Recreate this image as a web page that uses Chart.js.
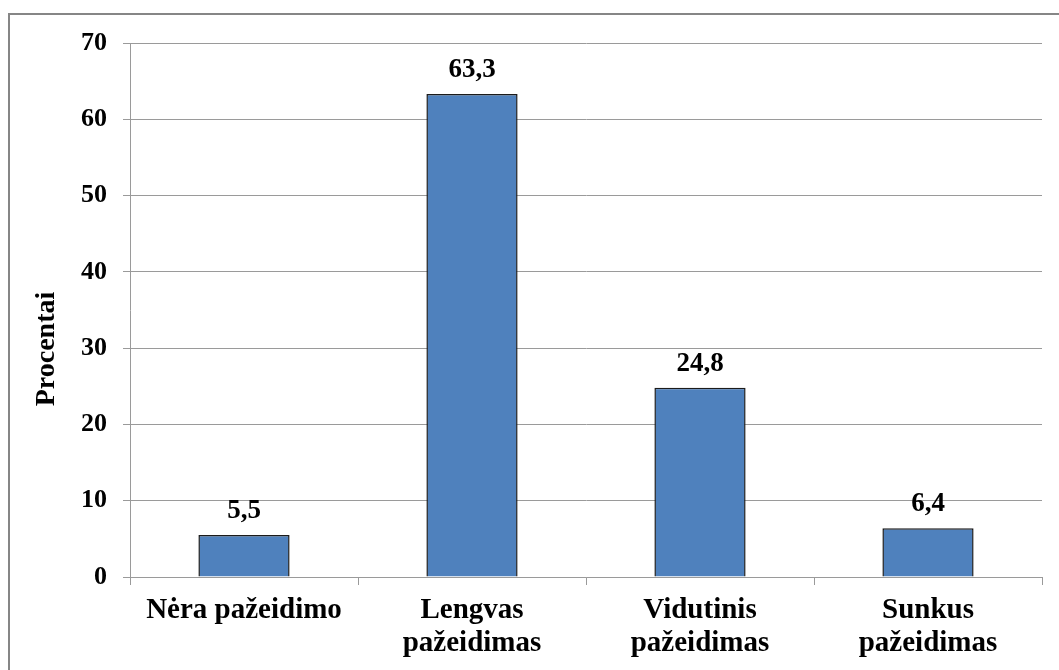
<!DOCTYPE html>
<html>
<head>
<meta charset="utf-8">
<script src="https://cdn.jsdelivr.net/npm/chart.js@4/dist/chart.umd.min.js"></script>
<style>
  html, body { margin: 0; padding: 0; background: #ffffff; overflow: hidden; }
  #wrap { position: relative; width: 1059px; height: 670px; }
  canvas { display: block; }
</style>
</head>
<body>
<div id="wrap"><canvas id="chart" width="1059" height="670"></canvas></div>
<script>
// Injury severity distribution (percent)
const categories = [
  ['Nėra pažeidimo'],
  ['Lengvas', 'pažeidimas'],
  ['Vidutinis', 'pažeidimas'],
  ['Sunkus', 'pažeidimas']
];
const values = [5.5, 63.3, 24.8, 6.4];
const yTicks = [0, 10, 20, 30, 40, 50, 60, 70];
const yTitle = 'Procentai';

const SERIF = '"Liberation Serif", "Times New Roman", serif';

// Outer chart frame
const framePlugin = {
  id: 'frame',
  beforeDraw(chart) {
    const ctx = chart.ctx;
    ctx.save();
    ctx.fillStyle = '#ffffff';
    ctx.fillRect(0, 0, chart.width, chart.height);
    ctx.strokeStyle = '#868686';
    ctx.lineWidth = 2;
    ctx.strokeRect(9, 14, 1200, 800);
    ctx.restore();
  }
};

// Value labels above bars, decimal comma
const valueLabelPlugin = {
  id: 'valueLabels',
  afterDatasetsDraw(chart) {
    const ctx = chart.ctx;
    const meta = chart.getDatasetMeta(0);
    ctx.save();
    ctx.font = 'bold 27px ' + SERIF;
    ctx.fillStyle = '#000000';
    ctx.textAlign = 'center';
    ctx.textBaseline = 'alphabetic';
    meta.data.forEach((bar, i) => {
      const txt = values[i].toFixed(1).replace('.', ',');
      ctx.fillText(txt, bar.x, bar.y - 17);
    });
    ctx.restore();
  }
};

// Rotated y-axis title
const yTitlePlugin = {
  id: 'yTitle',
  afterDraw(chart) {
    const ctx = chart.ctx;
    ctx.save();
    ctx.translate(47, 349);
    ctx.rotate(-Math.PI / 2);
    ctx.font = 'bold 28px ' + SERIF;
    ctx.fillStyle = '#000000';
    ctx.textAlign = 'center';
    ctx.textBaseline = 'middle';
    ctx.fillText(yTitle, 0, 0);
    ctx.restore();
  }
};

new Chart(document.getElementById('chart'), {
  type: 'bar',
  data: {
    labels: categories,
    datasets: [{
      data: values,
      backgroundColor: '#4F81BD',
      borderColor: '#1b1b1b',
      borderWidth: 1.5,
      barPercentage: 0.4,
      categoryPercentage: 1.0
    }]
  },
  options: {
    responsive: false,
    animation: false,
    devicePixelRatio: 1,
    layout: { padding: { top: 43, right: 17, left: 0, bottom: 0 } },
    plugins: {
      legend: { display: false },
      tooltip: { enabled: false },
      title: { display: false }
    },
    scales: {
      x: {
        grid: {
          offset: true,
          drawOnChartArea: false,
          drawTicks: true,
          tickLength: 8,
          color: '#9a9a9a',
          lineWidth: 1
        },
        border: { display: true, color: '#9a9a9a', width: 1 },
        ticks: {
          color: '#000000',
          font: { family: SERIF, size: 29, weight: 'bold', lineHeight: 1.14 },
          padding: 9,
          maxRotation: 0,
          autoSkip: false
        },
        afterFit(scale) { scale.height = 93; }
      },
      y: {
        min: 0,
        max: 70,
        afterBuildTicks(scale) {
          scale.ticks = yTicks.map(v => ({ value: v }));
        },
        grid: {
          color: '#9a9a9a',
          lineWidth: 1,
          drawTicks: true,
          tickLength: 7
        },
        border: { display: true, color: '#9a9a9a', width: 1 },
        ticks: {
          color: '#000000',
          font: { family: SERIF, size: 26, weight: 'bold' },
          padding: 16
        },
        afterFit(scale) { scale.width = 130; }
      }
    }
  },
  plugins: [framePlugin, valueLabelPlugin, yTitlePlugin]
});
</script>
</body>
</html>
